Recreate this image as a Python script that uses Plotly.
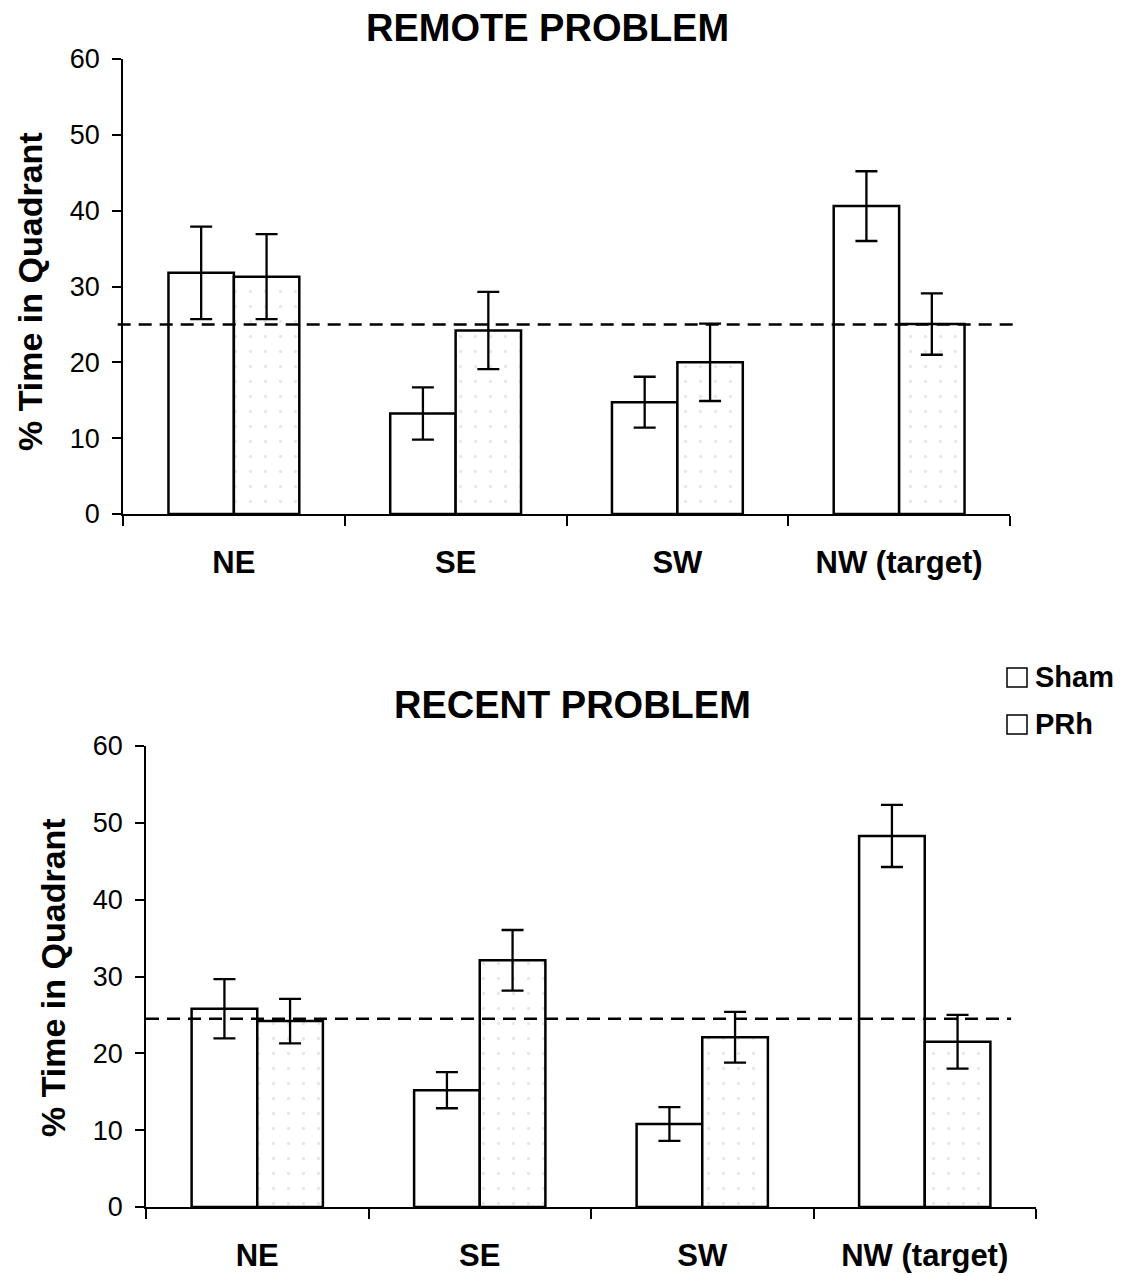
import plotly.graph_objects as go

# Quadrant categories and group names
quadrants = ["NE", "SE", "SW", "NW (target)"]
groups = ["Sham", "PRh"]

# Remote problem: mean % time and SEM per quadrant
remote_sham = [31.8, 13.25, 14.75, 40.6]
remote_sham_sem = [6.1, 3.45, 3.35, 4.6]
remote_prh = [31.3, 24.2, 20.0, 25.05]
remote_prh_sem = [5.6, 5.1, 5.1, 4.05]

# Recent problem: mean % time and SEM per quadrant
recent_sham = [25.8, 15.2, 10.8, 48.3]
recent_sham_sem = [3.85, 2.35, 2.2, 4.05]
recent_prh = [24.2, 32.1, 22.1, 21.5]
recent_prh_sem = [2.9, 3.95, 3.3, 3.5]

# Chance level (25 % per quadrant) lines
remote_chance = 25.0
recent_chance = 24.5

W, H = 1122, 1276
FONT = "Liberation Sans, Arial, sans-serif"


def px(x):
    return x / W


def py(y):
    return 1 - y / H


fig = go.Figure()


def add_panel(sham, sham_sem, prh, prh_sem, xa, ya):
    err_style = dict(type="data", visible=True, color="black", thickness=2.3, width=11)
    fig.add_trace(go.Bar(
        x=quadrants, y=sham, name=groups[0], xaxis=xa, yaxis=ya,
        marker=dict(color="white", line=dict(color="black", width=2.5)),
        error_y=dict(array=sham_sem, **err_style), showlegend=False,
    ))
    fig.add_trace(go.Bar(
        x=quadrants, y=prh, name=groups[1], xaxis=xa, yaxis=ya,
        marker=dict(color="white", line=dict(color="black", width=2.5),
                    pattern=dict(shape=".", fgcolor="#cfcfcf", bgcolor="white",
                                 size=15, solidity=0.04)),
        error_y=dict(array=prh_sem, **err_style), showlegend=False,
    ))


add_panel(remote_sham, remote_sham_sem, remote_prh, remote_prh_sem, "x", "y")
add_panel(recent_sham, recent_sham_sem, recent_prh, recent_prh_sem, "x2", "y2")

tickfont = dict(family=FONT, size=27, color="black")
xtickfont = dict(family=FONT, size=31, color="black", weight="bold")

xcommon = dict(type="category", range=[-0.5, 3.5], tickson="boundaries",
               ticks="outside", ticklen=10, tickwidth=1.5, tickcolor="black",
               showline=True, linecolor="black", linewidth=1.5, showgrid=False,
               zeroline=False, tickfont=xtickfont, ticklabelstandoff=20,
               automargin=False, fixedrange=True)
ycommon = dict(range=[0, 60], dtick=10, ticks="outside", ticklen=9, tickwidth=1.5,
               tickcolor="black", showline=True, linecolor="black", linewidth=1.5,
               showgrid=False, zeroline=False, tickfont=tickfont,
               ticklabelstandoff=7, automargin=False, fixedrange=True)

fig.update_layout(
    width=W, height=H,
    margin=dict(l=0, r=0, t=0, b=0, autoexpand=False),
    paper_bgcolor="white", plot_bgcolor="white",
    barmode="group", bargap=0.41, bargroupgap=0.0,
    xaxis=dict(domain=[px(123), px(1010)], anchor="y", **xcommon),
    yaxis=dict(domain=[py(514), py(59)], anchor="x", **ycommon),
    xaxis2=dict(domain=[px(146), px(1036)], anchor="y2", **xcommon),
    yaxis2=dict(domain=[py(1207), py(746)], anchor="x2", **ycommon),
    font=dict(family=FONT, color="black"),
)

# Dashed chance-level lines
dash = "13px,8px"
fig.add_shape(type="line", xref="x domain", yref="y", x0=-0.006, x1=1.004,
              y0=remote_chance, y1=remote_chance,
              line=dict(color="black", width=2.5, dash=dash))
fig.add_shape(type="line", xref="x2 domain", yref="y2", x0=0.0, x1=0.972,
              y0=recent_chance, y1=recent_chance,
              line=dict(color="black", width=2.5, dash=dash))

title_font = dict(family=FONT, size=38, color="black", weight="bold")
ytitle_font = dict(family=FONT, size=34, color="black", weight="bold")

# Panel titles
fig.add_annotation(text="REMOTE PROBLEM", xref="paper", yref="paper",
                   x=px(547), y=py(28), showarrow=False, font=title_font,
                   xanchor="center", yanchor="middle")
fig.add_annotation(text="RECENT PROBLEM", xref="paper", yref="paper",
                   x=px(572), y=py(705), showarrow=False, font=title_font,
                   xanchor="center", yanchor="middle")

# Y-axis titles
fig.add_annotation(text="% Time in Quadrant", xref="paper", yref="paper",
                   x=px(30), y=py(292), textangle=-90, showarrow=False,
                   font=ytitle_font, xanchor="center", yanchor="middle")
fig.add_annotation(text="% Time in Quadrant", xref="paper", yref="paper",
                   x=px(53), y=py(978), textangle=-90, showarrow=False,
                   font=ytitle_font, xanchor="center", yanchor="middle")

# Legend: open squares with group names
legend_font = dict(family=FONT, size=29, color="black", weight="bold")
for name, cy in [(groups[0], 677), (groups[1], 724)]:
    fig.add_shape(type="rect", xref="paper", yref="paper",
                  x0=px(1007), x1=px(1027), y0=py(cy - 9), y1=py(cy + 10),
                  line=dict(color="black", width=1.5), fillcolor="white")
    fig.add_annotation(text=name, xref="paper", yref="paper",
                       x=px(1033), y=py(cy), showarrow=False, font=legend_font,
                       xanchor="left", yanchor="middle")

fig.write_html("out.html")
